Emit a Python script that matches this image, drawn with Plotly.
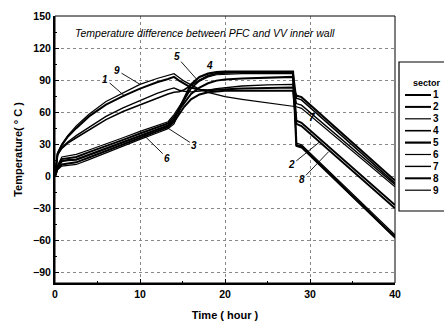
import plotly.graph_objects as go

# ---- data ----
time_h = [0, 0.3, 0.8, 1.5, 2.5, 4, 6, 8, 10, 12, 13.3, 14, 14.6, 15.2, 16, 17, 18, 19, 20, 22, 25, 28, 28.4, 29, 40]

sector_1 = [0, 21, 29, 37, 45, 56, 67, 75, 82, 88, 91, 93, 89.5, 86.5, 83, 81, 80.5, 81, 81.5, 82, 82.5, 83, 75.5, 74, -4]
sector_2 = [0, 9, 16, 17, 18, 22.5, 28, 34, 40, 45.5, 49.5, 55.5, 62, 69, 77, 83, 87, 89.5, 90.5, 91.5, 92.5, 93, 52, 50, -27]
sector_3 = [0, 10, 18, 19, 20.5, 24.5, 30, 36, 42, 47.5, 51, 57.6, 65, 73, 82, 89, 93, 95, 95.5, 96, 96, 96, 31, 29.5, -55]
sector_4 = [0, 20, 26, 31, 36, 43, 53, 60.5, 67, 73.5, 77, 78.6, 79, 81, 85, 90, 94, 96, 97, 97.5, 97.5, 97.5, 73, 71.5, -6.5]
sector_5 = [0, 8, 14, 15, 15.5, 20, 25.5, 31.5, 37.5, 43.5, 47.5, 53, 63, 74, 86, 93, 96, 97.5, 98, 98, 98, 98, 29, 28, -57]
sector_6 = [0, 6, 9.5, 10, 11, 15.5, 22, 28, 34.5, 40.5, 44.5, 49, 60, 71, 82, 90, 94, 96, 96.5, 97, 97, 97, 28, 26.5, -58]
sector_7 = [0, 20, 27, 32, 38, 46, 56, 64, 71, 77.5, 81, 82.7, 80.5, 79.5, 79, 79.5, 80.5, 82, 83, 84.5, 85.5, 86, 68, 66.5, -8]
sector_8 = [0, 7, 11, 12, 13, 17.5, 23.5, 29.5, 36, 42, 46, 51, 58, 65, 72, 76.5, 78.5, 79.5, 80, 80, 80, 80, 49, 47, -30]
sector_9 = [0, 22, 30, 38, 47, 58, 70, 78, 86, 91.5, 94.5, 96, 92.5, 89, 85.5, 81.5, 78.5, 76.5, 74.5, 72, 68.5, 65.5, 65, 63.5, -10]

sector_names = ["1", "2", "3", "4", "5", "6", "7", "8", "9"]
sector_values = [sector_1, sector_2, sector_3, sector_4, sector_5,
                 sector_6, sector_7, sector_8, sector_9]
line_widths = [2, 2, 1.2, 1.6, 2.2, 1.2, 1.4, 2, 1.2]

# curve labels: (text, label time, label value, leader end time, leader end value)
label_text = ["9", "1", "5", "4", "3", "6", "7", "2", "8"]
label_t = [7.3, 5.9, 14.3, 18.2, 16.4, 13.2, 30.2, 27.8, 29.0]
label_v = [99, 91, 112, 104, 29, 17, 55, 10.5, -3.5]
leader_t = [10.0, 8.2, 16.7, None, 12.7, 10.4, None, 31.2, 32.2]
leader_v = [86, 75, 90.5, None, 48, 38.8, None, 32.5, 23]

FONT = "Liberation Sans, Arial, sans-serif"

fig = go.Figure()
for name, vals, w in zip(sector_names, sector_values, line_widths):
    fig.add_trace(go.Scatter(x=time_h, y=vals, mode="lines", name=name,
                             line=dict(color="black", width=w),
                             showlegend=False))

annotations = []
annotations.append(dict(xref="paper", yref="paper", x=0.053, y=0.935,
                        xanchor="left", yanchor="middle", showarrow=False,
                        text="<i>Temperature difference between PFC and VV inner wall</i>",
                        font=dict(family=FONT, size=10.5, color="black")))
for txt, lt, lv, et, ev in zip(label_text, label_t, label_v, leader_t, leader_v):
    if et is None:
        annotations.append(dict(x=lt, y=lv, xref="x", yref="y", text=f"<b><i>{txt}</i></b>",
                                xanchor="center", yanchor="middle",
                                showarrow=False, font=dict(family=FONT, size=10, color="black")))
    else:
        annotations.append(dict(x=et, y=ev, xref="x", yref="y", ax=lt, ay=lv,
                                axref="x", ayref="y", text=f"<b><i>{txt}</i></b>",
                                showarrow=True, arrowhead=0, arrowwidth=0.9, arrowcolor="black",
                                font=dict(family=FONT, size=10, color="black")))

# custom legend box (paper coords)
plot_l, plot_r, plot_t, plot_b = 55, 395, 16, 283
pw, ph = plot_r - plot_l, plot_b - plot_t
def px(x):
    return (x - plot_l) / pw
def py(y):
    return (plot_b - y) / ph

shapes = [dict(type="rect", xref="paper", yref="paper", x0=0, x1=1, y0=0, y1=1,
               line=dict(color="black", width=1), layer="above"),
          dict(type="rect", xref="paper", yref="paper", x0=px(399), x1=px(447),
               y0=py(211), y1=py(62), line=dict(color="black", width=1.2),
               fillcolor="white", layer="above")]
annotations.append(dict(xref="paper", yref="paper", x=px(427), y=py(83), showarrow=False,
                        xanchor="center", yanchor="middle",
                        text="<b>sector</b>", font=dict(family=FONT, size=9, color="black")))
for i, (name, w) in enumerate(zip(sector_names, line_widths)):
    yy = 95 + i * 11.9
    shapes.append(dict(type="line", xref="paper", yref="paper", x0=px(405), x1=px(431),
                       y0=py(yy), y1=py(yy), line=dict(color="black", width=w), layer="above"))
    annotations.append(dict(xref="paper", yref="paper", x=px(431), y=py(yy),
                            xanchor="left", yanchor="middle",
                            showarrow=False, text=f"<b>{name}</b>",
                            font=dict(family=FONT, size=10, color="black")))

axis_common = dict(showline=True, linecolor="black", linewidth=2, mirror=False,
                   ticks="inside", ticklen=4, tickwidth=1.2, tickcolor="black",
                   showgrid=True, gridcolor="#888", griddash="dot", gridwidth=1,
                   zeroline=False,
                   tickfont=dict(family=FONT, size=10.5, color="black", weight="bold"))

fig.update_layout(
    width=444, height=321,
    margin=dict(l=plot_l, r=444 - plot_r, t=plot_t, b=321 - plot_b, autoexpand=False),
    paper_bgcolor="white", plot_bgcolor="white",
    showlegend=False,
    xaxis=dict(range=[0, 40], dtick=10, tick0=0,
               minor=dict(dtick=5, ticks="inside", ticklen=2, tickcolor="black", showgrid=False),
               title=dict(text="<b>Time ( hour )</b>", standoff=13,
                          font=dict(family=FONT, size=11, color="black")),
               **axis_common),
    yaxis=dict(range=[-100, 150], dtick=30, tick0=0,
               minor=dict(dtick=15, ticks="inside", ticklen=2, tickcolor="black", showgrid=False),
               title=dict(text="<b>Temperature( ° C )</b>", standoff=8,
                          font=dict(family=FONT, size=11, color="black")),
               **axis_common),
    shapes=shapes,
    annotations=annotations,
)

fig.write_html("out.html", config={"displayModeBar": False},
               post_script="document.body.style.margin='0';document.body.style.overflow='hidden';")
